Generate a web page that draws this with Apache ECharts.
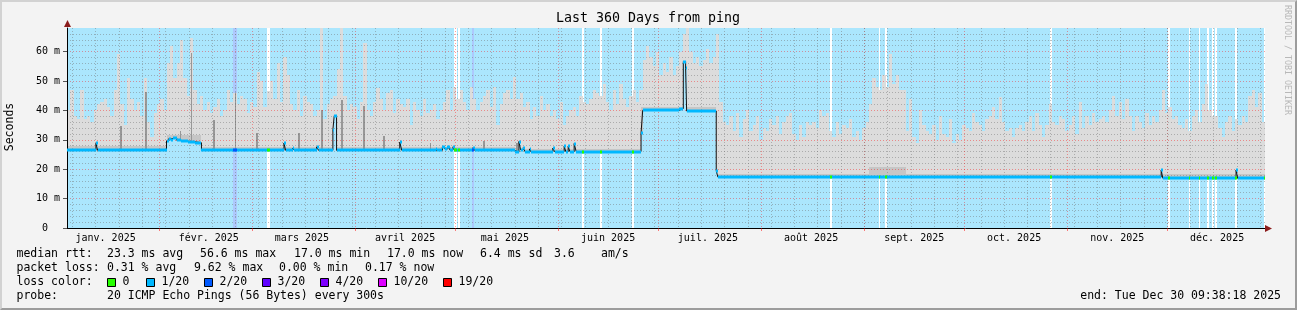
<!DOCTYPE html>
<html><head><meta charset="utf-8">
<script src="https://cdn.jsdelivr.net/npm/echarts@6/dist/echarts.min.js"></script>
<style>
html,body{margin:0;padding:0;background:#f3f3f3;}
#wrap{position:relative;width:1297px;height:310px;}
#chart{width:1297px;height:310px;}
#frame{position:absolute;left:0;top:0;width:1297px;height:310px;box-sizing:border-box;border-top:2px solid #d2d2d2;border-left:2px solid #d2d2d2;border-right:2px solid #9c9c9c;border-bottom:2px solid #9c9c9c;pointer-events:none;}
</style></head>
<body><div id="wrap"><div id="chart"></div><div id="frame"></div></div>
<script>
// ---------- DATA ----------
const titleText = 'Last 360 Days from ping';
const yAxisName = 'Seconds';
const rrdCredit = 'RRDTOOL / TOBI OETIKER';
const endText = 'end: Tue Dec 30 09:38:18 2025';
const rangeStartUTC = [2025, 0, 4, 9, 38, 18];   // 360 days before end
const rangeDays = 360;
const yMax = 68; // ms
const monthLabels = ['janv. 2025','févr. 2025','mars 2025','avril 2025','mai 2025','juin 2025',
  'juil. 2025','août 2025','sept. 2025','oct. 2025','nov. 2025','déc. 2025'];
const yLabelValues = [0, 10, 20, 30, 40, 50, 60];
const yMinorValues = [2,4,6,8,12,14,16,18,22,24,26,28,32,34,36,38,42,44,46,48,52,54,56,58,62,64,66];

// upper edge of the smoke (ms), one value per day
const smokeTop = [
 40,47,38,37,47,37,38,36,40,42,
 43,44,41,38,47,59,42,35,51,44,
 40,43,38,51,36,31,39,42,44,40,
 56,62,51,56,64,51,45,64.5,47,42,
 45,40,43,39,41,44,38,40,47,43,
 46,42,45,44,39,43,41,53,50,41,
 46.5,50,44,56,43,58,52,42,40,47,
 38,45,43,42,38,40,68,37,42,44,
 45,54,68,45,40,42,41,37,43,63,
 40,38,43,47.5,44,40,46,47,39,44,
 42,41,44,35,43,40,38,44,39,40,
 42,37,40,43,47,40,48,44,47,43,
 40,48,44,40,43,45,47,41,48,35,
 42,46,47,44,51.5,44,46,41,43,37,
 41,38,45,40,42,38,40,37,43,35,
 38,40,41,38,45,43,42,44,47,46,
 45,49,43,40,47,42,49,44,41,45,
 47,43,47,57,62,58,55,60,52,56,
 53,58,52,55,60,66,68,60,56,58,
 55,57,61,56,58,66,43,36,35,38,
 33,39,31,37,40,33,35,38,30,34,
 33,37,35,38,32,36,38,39,32,30,
 35,31,36,35,36,34,40,38,39,33,
 31,36,32,35,34,37,31,33,30,34,
 36,42,51,48,47,52,48,59,49,52,
 47,47,33,44,31,29,40,35,33,32,
 35,30,38,32,31,37,29,32,30,35,
 34,33,39,36,35,33,37,38,41,37,
 44.7,36,33,34,31,34,35,33,36,38,
 33,39,35,31,35,42,36,35,38,37,
 33,35,38,32,43,34,38,35,39,36,
 37,38,36,40,45,38,43,37,44,38,
 33,38,36,34,39,35,38,36,40,47,
 39,41,37,38,35,34,37,33,38,40,
 36,42,49,40,38,38,34,31,36,38,
 33,37,35,38,36,45,47,41,46,36
];

// median rtt as steps: [start day, ms]
const medianSteps = [
 [0,26.4],[8.7,28.8],[9.2,26.4],
 [29.9,29.6],[30.6,30.4],[31.4,29.8],[32.0,30.5],[33.0,29.8],[34.2,29.5],[36.5,29.3],[38.5,29.0],[40.4,26.4],
 [49.8,26.6],[50.8,26.4],
 [65.2,28.9],[65.7,26.4],[67.8,27.2],[68.3,26.4],
 [75.0,27.6],[75.6,26.4],
 [79.9,33.4],[80.3,38.2],[81.0,26.4],
 [100.0,29.2],[100.6,26.4],
 [110.8,27.0],[111.3,26.4],[112.8,27.6],[113.5,26.9],[114.3,27.5],[115.0,26.6],[116.0,27.6],[116.5,26.4],
 [122.0,27.3],[122.5,26.4],
 [134.5,25.8],[135.8,29.4],[136.3,26.6],[137.1,27.3],[137.6,26.0],[139.0,26.9],[139.5,25.8],
 [143.6,26.0],
 [146.0,27.2],[146.5,26.0],[149.4,27.8],[149.9,26.0],[150.6,27.8],[151.1,26.0],[152.4,28.7],[153.0,26.0],
 [172.5,32.3],[173.0,40.0],[184.0,40.6],[185.2,56.6],[185.9,54.3],[186.2,39.8],
 [195.1,19.4],[195.6,17.3],
 [328.8,19.7],[329.3,16.9],
 [351.3,19.7],[351.8,16.9]
];

// darker smoke band near the median: [from day, to day, top ms]
const midBand = [
 [0,29.9,27.9],[29.9,40.4,31.5],[40.4,134.5,27.6],[134.5,172.5,26.9],
 [172.5,195.1,41.0],[195.1,241,18.5],[241,252,20.6],[252,360,18.4]
];
// dark smoke spikes: [day, top ms]
const darkSpikes = [
 [15.9,34.6],[23.4,46.4],[33.9,33.0],[37.2,59.4],[44.0,36.8],[50.4,45.9],[56.9,32.3],
 [69.4,32.3],[76.3,40.2],[82.3,43.6],[89.0,41.4],[95.0,31.2],[109.0,29.0],[125.0,29.5],[135.0,29.0]
];

// loss periods: [from day, to day]
const lossZeroSpans = [
 [60.0,61.0],[116.4,117.1],[117.4,118.1],[154.8,155.4],[160.2,160.8],[169.9,170.4],
 [229.3,229.9],[244.0,244.4],[245.8,246.4],[295.4,296.0],[330.9,331.5],[337.1,337.5],
 [340.1,340.5],[342.6,343.1],[344.1,344.7],[344.9,345.5],[350.9,351.5],[359.8,360]
];
const lossTwoSpans = [[50.0,51.0],[121.6,122.3]];

const lossLegendLabels = ['0','1/20','2/20','3/20','4/20','10/20','19/20'];
const lossLegendColors = ['#26ff00','#00b8ff','#0059ff','#5e00ff','#7e00ff','#dd00ff','#ff0000'];
const statsRtt = [['median rtt:',16.5],['23.3 ms avg',107],['56.6 ms max',200],['17.0 ms min',294],
  ['17.0 ms now',387],['6.4 ms sd',480],['3.6',554],['am/s',601]];
const statsLoss = [['packet loss:',16.5],['0.31 % avg',107],['9.62 % max',194],['0.00 % min',279],['0.17 % now',365]];
const probeLabel = 'probe:';
const probeText = '20 ICMP Echo Pings (56 Bytes) every 300s';

// ---------- derived helpers ----------
const DAY = 86400000;
const start = Date.UTC.apply(null, rangeStartUTC);
const monthStartDays = [];
for (let m = 1; m < 12; m++) monthStartDays.push((Date.UTC(2025, m, 1) - start) / DAY);
const labelDays = monthLabels.map((_, m) => (Date.UTC(2025, m, 16) - start) / DAY);
const weekDays = [];
for (let t = Date.UTC(2025, 0, 6); t < start + rangeDays * DAY; t += 7 * DAY) weekDays.push((t - start) / DAY);

const medianSegs = medianSteps.map((s, i) => [s[0], i + 1 < medianSteps.length ? medianSteps[i + 1][0] : rangeDays, s[1]]);
function medianAt(x) {
  for (const s of medianSegs) if (x >= s[0] && x < s[1]) return s[2];
  return medianSegs[medianSegs.length - 1][2];
}

const MONO = '"DejaVu Sans Mono", monospace';

function smokeRenderer(color) {
  return function (params, api) {
    const d0 = api.value(0), d1 = api.value(1), top = api.value(2);
    const children = [];
    for (const s of medianSegs) {
      const a = Math.max(d0, s[0]), b = Math.min(d1, s[1]);
      if (b <= a || top <= s[2]) continue;
      const p0 = api.coord([a, top]), p1 = api.coord([b, s[2]]);
      const x0 = Math.round(p0[0]), x1 = Math.round(p1[0]);
      const y0 = Math.round(p0[1]), y1 = Math.round(p1[1]);
      if (x1 <= x0) continue;
      children.push({type: 'rect', shape: {x: x0, y: y0, width: x1 - x0, height: y1 - y0}, style: {fill: color}});
    }
    return {type: 'group', children};
  };
}

function colRenderer(params, api) {
  const a = api.value(0), b = api.value(1), kind = api.value(2);
  const p0 = api.coord([a, yMax]), p1 = api.coord([b, 0]);
  const x0 = Math.round(p0[0]); let x1 = Math.round(p1[0]); if (x1 <= x0) x1 = x0 + 1;
  return {type: 'rect', shape: {x: x0, y: p0[1], width: x1 - x0, height: p1[1] - p0[1]},
    style: {fill: kind === 0 ? '#ffffff' : '#adc9fd'}};
}

function medRenderer(colorFn) {
  return function (params, api) {
    const a = api.value(0), b = api.value(1), v = api.value(2), kind = api.value(3);
    const p0 = api.coord([a, v]), p1 = api.coord([b, v]);
    const x0 = Math.round(p0[0]); let x1 = Math.round(p1[0]); if (x1 <= x0) x1 = x0 + 1;
    return {type: 'rect', shape: {x: x0, y: Math.round(p0[1]) - 1.5, width: x1 - x0, height: 3},
      style: {fill: colorFn(kind)}};
  };
}

const chart = echarts.init(document.getElementById('chart'), null, {renderer: 'canvas'});

const graphics = [];
graphics.push({type: 'text', x: 648, y: 19, style: {text: titleText, font: '13.3px ' + MONO, fill: '#000', align: 'center', verticalAlign: 'middle', textAlign: 'center', textVerticalAlign: 'middle'}});
graphics.push({type: 'text', x: 10, y: 127, rotation: Math.PI / 2, style: {text: yAxisName, font: '11.5px ' + MONO, fill: '#000', align: 'center', verticalAlign: 'middle', textAlign: 'center', textVerticalAlign: 'middle'}});
graphics.push({type: 'text', x: 1287, y: 5, rotation: -Math.PI / 2, style: {text: rrdCredit, font: '8.3px ' + MONO, fill: '#b8b8b8', align: 'left', verticalAlign: 'middle', textAlign: 'left', textVerticalAlign: 'middle'}});
const LEG = '11.5px ' + MONO;
function txt(s, x, y, align) {
  graphics.push({type: 'text', x: x, y: y, style: {text: s, font: LEG, fill: '#000', align: align || 'left', verticalAlign: 'middle', textAlign: align || 'left', textVerticalAlign: 'middle'}});
}
statsRtt.forEach(it => txt(it[0], it[1], 254.5));
statsLoss.forEach(it => txt(it[0], it[1], 268.5));
txt('loss color:', 16.5, 282.5);
const boxX = [107, 146, 204, 262, 320, 378, 443];
lossLegendLabels.forEach((l, i) => {
  graphics.push({type: 'rect', shape: {x: boxX[i] + 0.5, y: 278.5, width: 8, height: 8}, style: {fill: lossLegendColors[i], stroke: '#000', lineWidth: 1}});
  txt(l, boxX[i] + 15.5, 282.5);
});
txt(probeLabel, 16.5, 296.5);
txt(probeText, 107, 296.5);
txt(endText, 1281, 296.5, 'right');
// axis arrows
graphics.push({type: 'polygon', shape: {points: [[1265, 225], [1265, 232], [1272, 228.5]]}, style: {fill: '#8b1c1c'}, z: 10});
graphics.push({type: 'polygon', shape: {points: [[64, 27], [71, 27], [67.5, 20]]}, style: {fill: '#8b1c1c'}, z: 10});

const option = {
  animation: false,
  backgroundColor: '#f3f3f3',
  grid: {left: 67, top: 28, width: 1198, height: 200, show: true, backgroundColor: '#abe6fd', borderWidth: 0},
  xAxis: [{
    type: 'value', min: 0, max: rangeDays, position: 'bottom', z: 3,
    axisLine: {show: true, lineStyle: {color: '#000', width: 1}},
    axisTick: {show: true, customValues: monthStartDays, length: 3, lineStyle: {color: 'rgba(255,0,0,0.5)'}},
    axisLabel: {show: true, customValues: labelDays, margin: 5, color: '#000', fontFamily: 'DejaVu Sans Mono', fontSize: 10,
      formatter: v => { let best = 0; labelDays.forEach((d, i) => { if (Math.abs(d - v) < Math.abs(labelDays[best] - v)) best = i; }); return monthLabels[best]; }},
    splitLine: {show: true, lineStyle: {color: 'rgba(255,0,0,0.38)', type: [1, 2], width: 1}}
  }, {
    type: 'value', min: 0, max: rangeDays, position: 'top', z: 3,
    axisLine: {show: false}, axisLabel: {show: false},
    axisTick: {show: false, customValues: weekDays},
    splitLine: {show: true, lineStyle: {color: 'rgba(110,110,110,0.45)', type: [1, 2], width: 1}}
  }],
  yAxis: [{
    type: 'value', min: 0, max: yMax, position: 'left', z: 3,
    axisLine: {show: true, lineStyle: {color: '#000', width: 1}},
    axisTick: {show: true, customValues: yLabelValues, length: 4, lineStyle: {color: '#555'}},
    axisLabel: {show: true, customValues: yLabelValues, margin: 7, color: '#000', fontFamily: 'DejaVu Sans Mono', fontSize: 10,
      formatter: v => v === 0 ? '0  ' : (v + ' m')},
    splitLine: {show: true, lineStyle: {color: 'rgba(255,0,0,0.38)', type: [1, 2], width: 1}}
  }, {
    type: 'value', min: 0, max: yMax, position: 'right', z: 3,
    axisLine: {show: false}, axisLabel: {show: false},
    axisTick: {show: false, customValues: yMinorValues},
    splitLine: {show: true, lineStyle: {color: 'rgba(110,110,110,0.45)', type: [1, 2], width: 1}}
  }],
  graphic: graphics,
  series: [
    {type: 'custom', name: 'lossBackground', z: 1, clip: true, renderItem: colRenderer,
      encode: {x: [0, 1], y: 2},
      data: lossZeroSpans.map(s => [s[0], s[1], 0]).concat(lossTwoSpans.map(s => [s[0], s[1], 2]))},
    {type: 'custom', name: 'smoke', z: 2, clip: true, renderItem: smokeRenderer('#dcdcdc'),
      encode: {x: [0, 1], y: 2}, data: smokeTop.map((v, i) => [i, i + 1, v])},
    {type: 'custom', name: 'smokeMid', z: 2, clip: true, renderItem: smokeRenderer('#c6c6c6'),
      encode: {x: [0, 1], y: 2}, data: midBand.map(r => [r[0], r[1], r[2]])},
    {type: 'custom', name: 'smokeDark', z: 2, clip: true, renderItem: smokeRenderer('#979797'),
      encode: {x: [0, 1], y: 2}, data: darkSpikes.map(s => [s[0], s[0] + 0.5, s[1]])},
    {type: 'line', name: 'medianEdge', z: 4, step: 'end', symbol: 'none', clip: true,
      lineStyle: {color: '#111', width: 1},
      data: medianSteps.concat([[rangeDays, medianSteps[medianSteps.length - 1][1]]])},
    {type: 'custom', name: 'median', z: 5, clip: true, renderItem: medRenderer(() => '#00b8ff'),
      encode: {x: [0, 1], y: 2}, data: medianSegs.map(s => [s[0], s[1], s[2], 1])},
    {type: 'custom', name: 'medianLoss', z: 6, clip: true,
      renderItem: medRenderer(k => k === 0 ? lossLegendColors[0] : lossLegendColors[2]),
      encode: {x: [0, 1], y: 2},
      data: lossZeroSpans.map(s => [s[0], s[1], medianAt((s[0] + s[1]) / 2), 0])
        .concat(lossTwoSpans.map(s => [s[0], s[1], medianAt((s[0] + s[1]) / 2), 2]))}
  ]
};
chart.setOption(option);
</script></body></html>
